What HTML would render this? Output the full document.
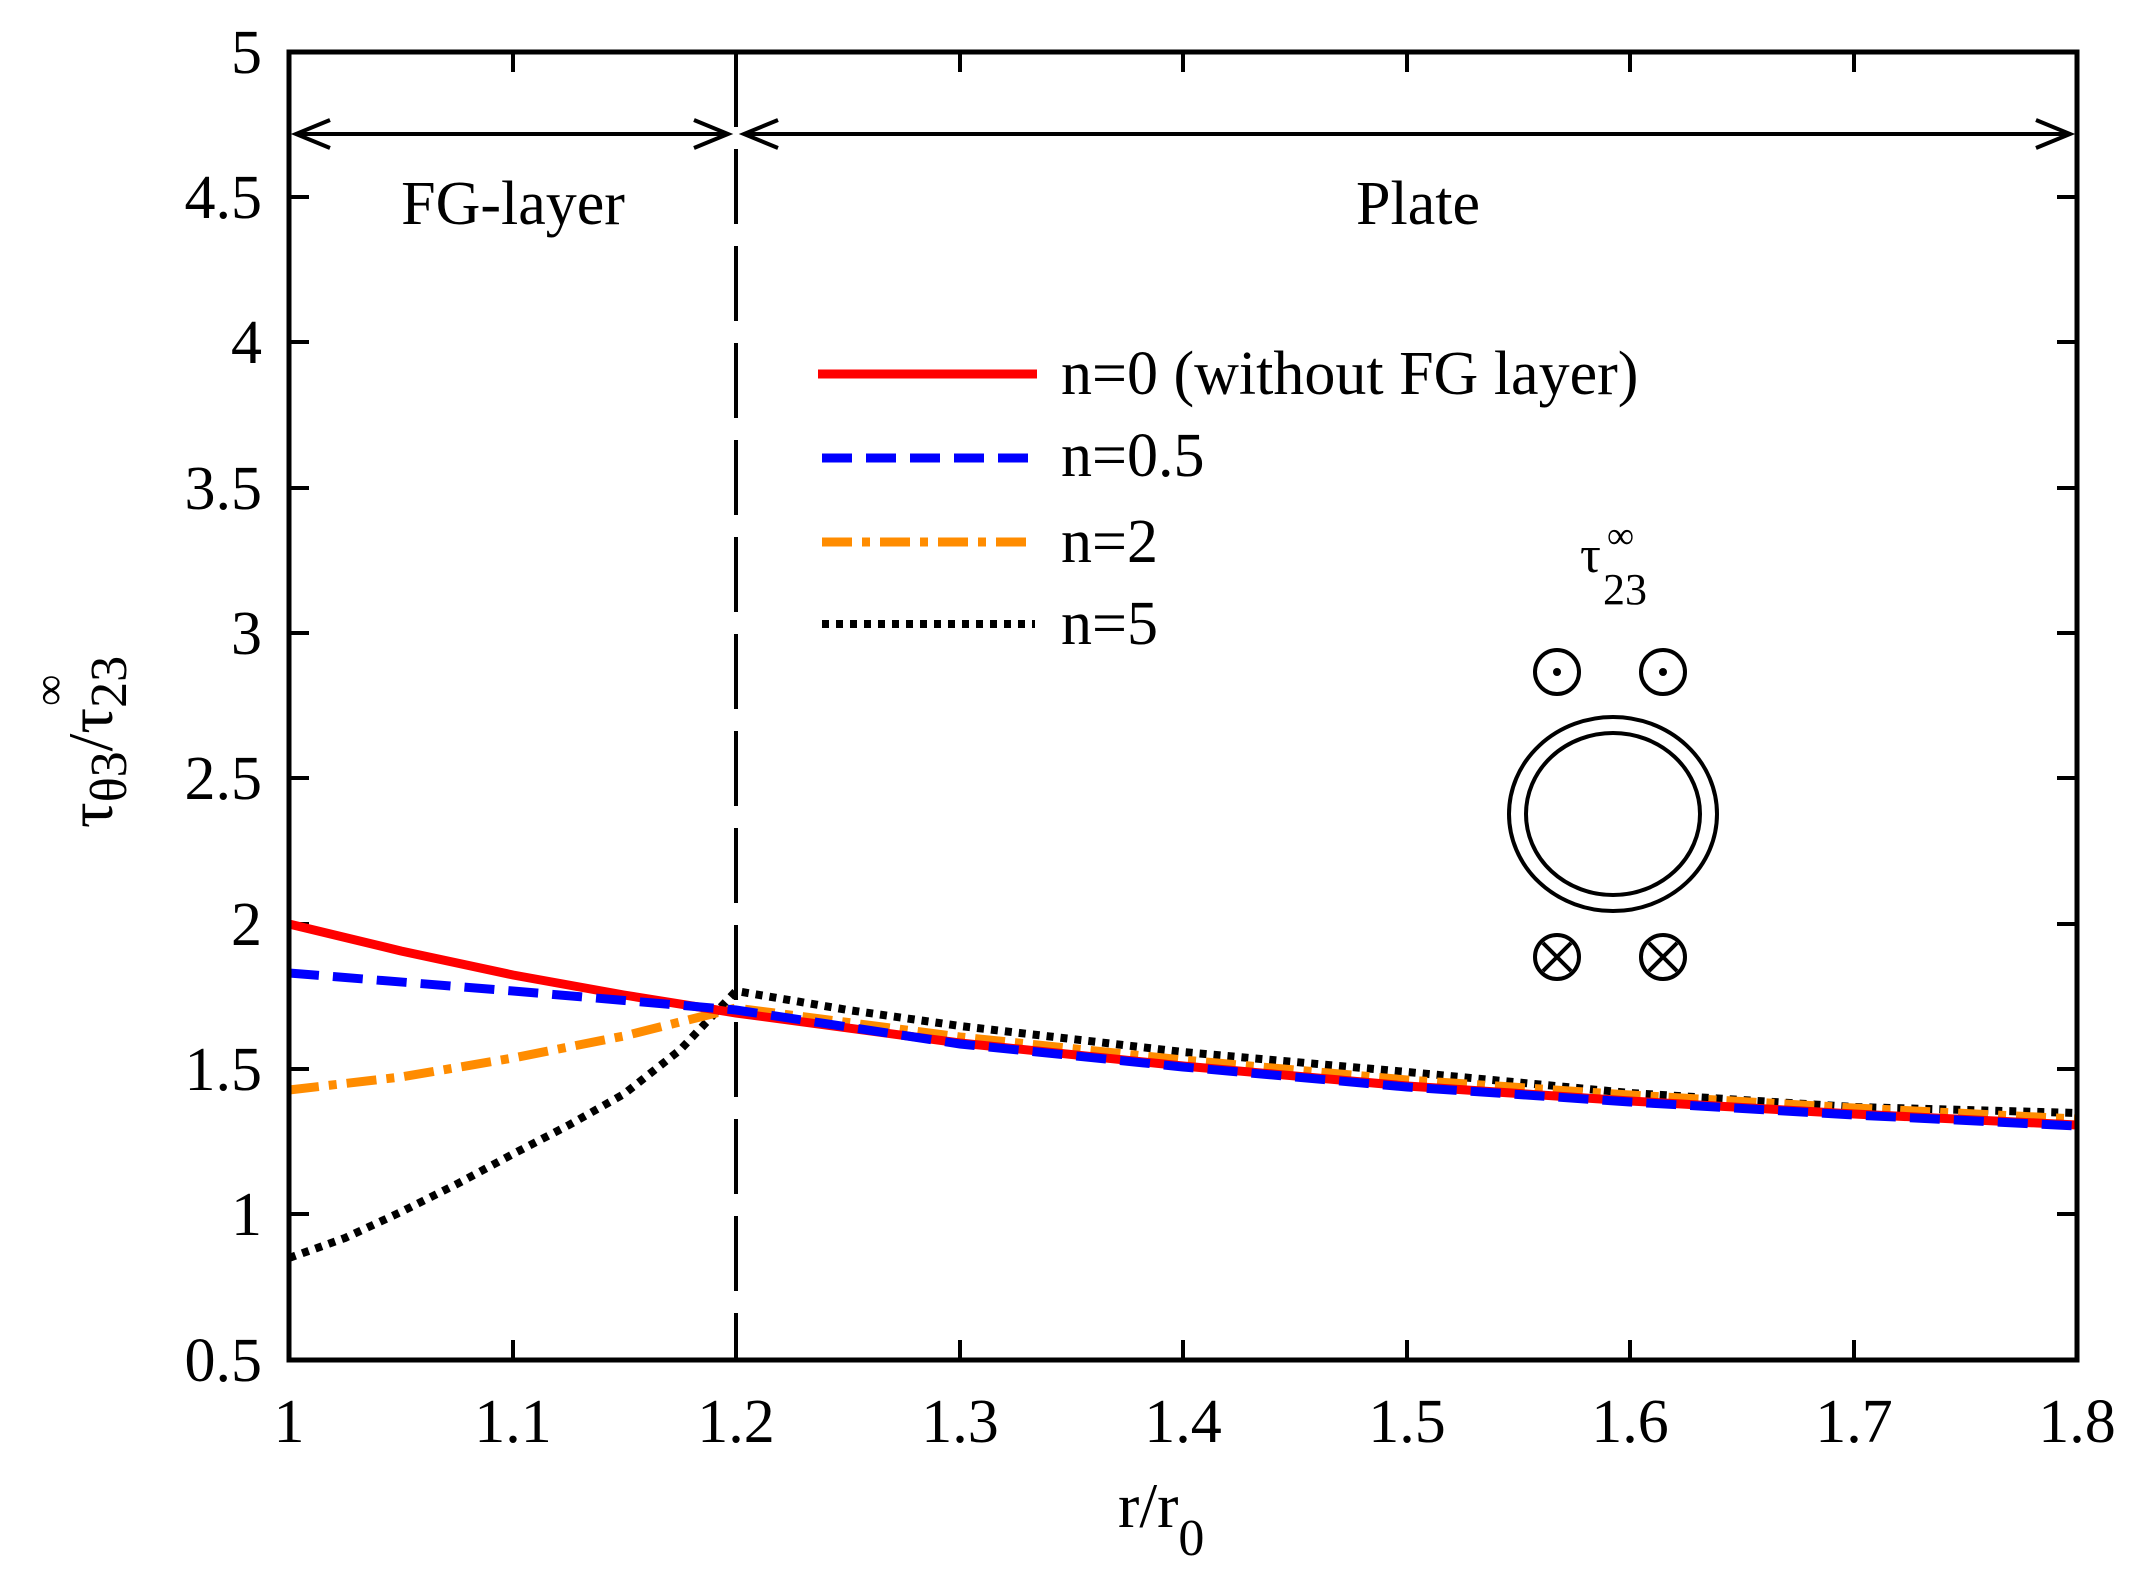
<!DOCTYPE html>
<html><head><meta charset="utf-8"><style>
html,body{margin:0;padding:0;background:#fff;}
svg{display:block;}
text{font-family:"Liberation Serif",serif;fill:#000;}
</style></head><body>
<svg width="2139" height="1593" viewBox="0 0 2139 1593" xmlns="http://www.w3.org/2000/svg">
<rect width="2139" height="1593" fill="#fff"/>
<g stroke="#000" stroke-width="4">
<path d="M289,1214h20M289,1069h20M289,924h20M289,778h20M289,633h20M289,488h20M289,342h20M289,197h20
M2077,1214h-20M2077,1069h-20M2077,924h-20M2077,778h-20M2077,633h-20M2077,488h-20M2077,342h-20M2077,197h-20
M513,1360v-20M960,1360v-20M1183,1360v-20M1407,1360v-20M1630,1360v-20M1854,1360v-20
M513,52v20M960,52v20M1183,52v20M1407,52v20M1630,52v20M1854,52v20"/>
</g>
<line x1="736" y1="52" x2="736" y2="1360" stroke="#000" stroke-width="4" stroke-dasharray="75,22"/>
<g stroke="#000" stroke-width="4" fill="none">
<line x1="296" y1="134" x2="728" y2="134"/>
<line x1="744" y1="134" x2="2070" y2="134"/>
<path d="M330,120L296,134L330,148M694,120L728,134L694,148M778,120L744,134L778,148M2036,120L2070,134L2036,148"/>
</g>
<text x="513" y="224" font-size="62" text-anchor="middle">FG-layer</text>
<text x="1418" y="224" font-size="62" text-anchor="middle">Plate</text>
<g fill="none" stroke-width="9">
<polyline stroke="#000" stroke-dasharray="7,7" stroke-width="8" points="289,1258 345,1238 401,1212 457,1184 513,1154 569,1125 624,1094 680,1050 736,991 848,1010 960,1026 1183,1052 1407,1072 1630,1093 1854,1107 2077,1113"/>
<polyline stroke="#ff8c00" stroke-dasharray="30,10,8,10" points="289,1090 401,1077 513,1058 624,1036 736,1008 960,1037 1183,1060 1407,1080 1630,1095 1854,1108 2077,1119"/>
<polyline stroke="#ff0000" points="289,924 401,951 513,975 624,995 736,1013 960,1043 1183,1066 1407,1086 1630,1101 1854,1114 2077,1125"/>
<polyline stroke="#0000ff" stroke-dasharray="30,14" points="289,973 513,991 736,1010 960,1044 1183,1067 1407,1087 1630,1102 1854,1115 2077,1126"/>
</g>
<rect x="289" y="52" width="1788" height="1308" fill="none" stroke="#000" stroke-width="5"/>
<g stroke-width="9" fill="none">
<line x1="818" y1="374" x2="1037" y2="374" stroke="#ff0000"/>
<line x1="822" y1="458" x2="1030" y2="458" stroke="#0000ff" stroke-dasharray="30,14"/>
<line x1="822" y1="542" x2="1030" y2="542" stroke="#ff8c00" stroke-dasharray="30,10,8,10"/>
<line x1="822" y1="624" x2="1035" y2="624" stroke="#000" stroke-dasharray="7,7" stroke-width="8"/>
</g>
<g font-size="62">
<text x="1061" y="394">n=0 (without FG layer)</text>
<text x="1061" y="476">n=0.5</text>
<text x="1061" y="562">n=2</text>
<text x="1061" y="644">n=5</text>
</g>
<text x="1580" y="572" font-size="52">τ</text>
<text x="1603" y="604" font-size="44">23</text>
<text x="1607" y="548" font-size="38">∞</text>
<g fill="none" stroke="#000" stroke-width="4">
<ellipse cx="1613" cy="814" rx="104" ry="97"/>
<ellipse cx="1613" cy="814" rx="87" ry="81"/>
<circle cx="1557" cy="672" r="22"/><circle cx="1663" cy="672" r="22"/>
<circle cx="1557" cy="957" r="22"/><circle cx="1663" cy="957" r="22"/>
<path d="M1543,943L1571,971M1571,943L1543,971M1649,943L1677,971M1677,943L1649,971"/>
</g>
<circle cx="1557" cy="672" r="4"/><circle cx="1663" cy="672" r="4"/>
<g font-size="62" text-anchor="end">
<text x="262" y="1381">0.5</text>
<text x="262" y="1235">1</text>
<text x="262" y="1090">1.5</text>
<text x="262" y="945">2</text>
<text x="262" y="799">2.5</text>
<text x="262" y="654">3</text>
<text x="262" y="509">3.5</text>
<text x="262" y="363">4</text>
<text x="262" y="218">4.5</text>
<text x="262" y="73">5</text>
</g>
<g font-size="62" text-anchor="middle">
<text x="289" y="1442">1</text>
<text x="513" y="1442">1.1</text>
<text x="736" y="1442">1.2</text>
<text x="960" y="1442">1.3</text>
<text x="1183" y="1442">1.4</text>
<text x="1407" y="1442">1.5</text>
<text x="1630" y="1442">1.6</text>
<text x="1854" y="1442">1.7</text>
<text x="2077" y="1442">1.8</text>
</g>
<text x="1118" y="1527" font-size="64">r/r<tspan font-size="52" dy="28">0</tspan></text>
<g transform="translate(112,828) rotate(-90)">
<text x="0" y="0" font-size="64">τ<tspan font-size="52" dy="14">θ3</tspan><tspan dy="-14">/τ</tspan><tspan font-size="52" dy="14">23</tspan><tspan font-size="44" dx="-50" dy="-62">∞</tspan></text>
</g>
</svg>
</body></html>
